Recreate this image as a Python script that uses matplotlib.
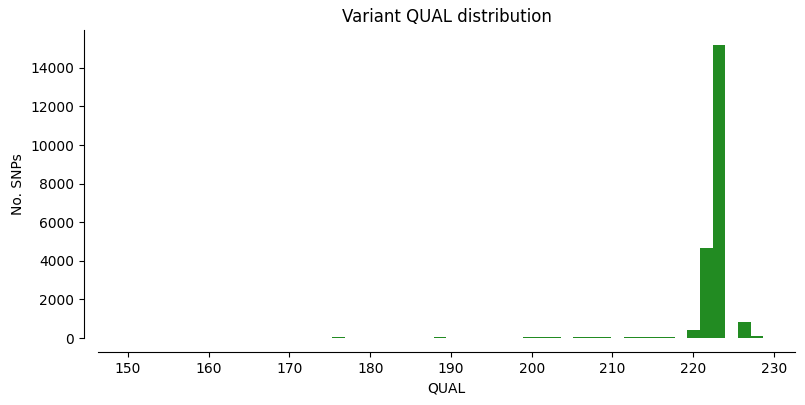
import matplotlib
matplotlib.use('Agg')
import matplotlib.pyplot as plt
import numpy as np

# QUAL histogram, 50 bins between min and max QUAL
qual_min = 150.2
qual_max = 228.7
n_bins = 50
counts = [1, 0, 0, 0, 0, 0, 0, 0, 0, 0,
          0, 0, 0, 0, 0, 0, 40, 0, 0, 0,
          0, 0, 0, 0, 40, 0, 0, 0, 0, 0,
          0, 40, 40, 40, 0, 40, 40, 40, 0, 40,
          40, 40, 40, 0, 415, 4670, 15200, 0, 830, 100]

edges = np.linspace(qual_min, qual_max, n_bins + 1)
centers = (edges[:-1] + edges[1:]) / 2

fig = plt.figure(figsize=(8.05, 4.05), dpi=100)
ax = fig.add_axes([0.1217, 0.1654, 0.8659, 0.7606])
ax.hist(centers, bins=edges, weights=counts, color='forestgreen')
ax.set_title('Variant QUAL distribution', fontsize=12)
ax.set_xlabel('QUAL')
ax.set_ylabel('No. SNPs')
ax.set_xticks([150, 160, 170, 180, 190, 200, 210, 220, 230])
ax.set_yticks(range(0, 14001, 2000))

# despine with offset
for s in ['top', 'right']:
    ax.spines[s].set_visible(False)
ax.spines['left'].set_position(('outward', 10))
ax.spines['bottom'].set_position(('outward', 10))

fig.savefig('out.png', dpi=100)
